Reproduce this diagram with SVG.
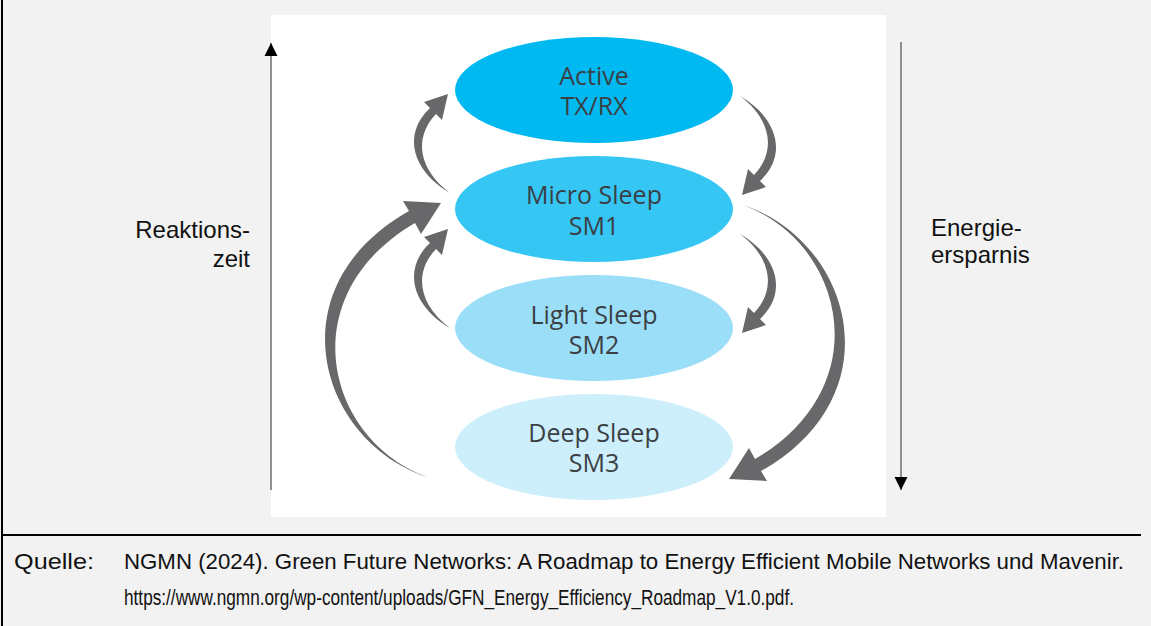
<svg xmlns="http://www.w3.org/2000/svg" width="1151" height="626" viewBox="0 0 1151 626">
  <style>
    .lbl { font-family: "Liberation Sans", Arial, sans-serif; font-size: 24px; fill: #111; }
    .src { font-family: "Liberation Sans", Arial, sans-serif; font-size: 22px; fill: #111; }
    .nt { font-family: "Open Sans", "DejaVu Sans", sans-serif; font-size: 25px; fill: #3b3f44; text-anchor: middle; }
    .axis { stroke: #6e6e6e; stroke-width: 1.5; fill: none; }
    .arr { fill: #68686b; }
  </style>
  <defs>
    <marker id="ah" markerUnits="userSpaceOnUse" markerWidth="14" markerHeight="14" viewBox="0 0 14 14" refX="13" refY="7" orient="auto">
      <path d="M0,0.5 L13,7 L0,13.5 Z" fill="#000"/>
    </marker>
    <path id="smallArrow" d="M 450 193 C 412 171 402 134 430 108 L 424 102 L 448 94 L 442 120 L 436 114 C 413 138 419 170 450 193 Z"/>
    <path id="bigArrow" d="M 427 477 C 318 441 274 287 409 211 L 403 201 L 441 203 L 421 234 L 415 223 C 290 296 326 440 427 477 Z"/>
  </defs>

  <g id="background">
    <rect x="0" y="0" width="1151" height="626" fill="#f2f2f2"/>
    <line x1="2" y1="0" x2="2" y2="626" stroke="#000" stroke-width="2"/>
    <line x1="2" y1="535" x2="1141" y2="535" stroke="#000" stroke-width="2"/>
    <rect x="271" y="15" width="615" height="502" fill="#ffffff"/>
  </g>

  <g id="node-active">
    <ellipse cx="594" cy="90" rx="139" ry="53" fill="#00b9f1"/>
    <text class="nt" x="594" y="85">Active</text>
    <text class="nt" x="594" y="115">TX/RX</text>
  </g>
  <g id="node-sm1">
    <ellipse cx="594" cy="209" rx="139" ry="53" fill="#35c6f4"/>
    <text class="nt" x="594" y="204">Micro Sleep</text>
    <text class="nt" x="594" y="235">SM1</text>
  </g>
  <g id="node-sm2">
    <ellipse cx="594" cy="328" rx="139" ry="53" fill="#9bdef8"/>
    <text class="nt" x="594" y="324">Light Sleep</text>
    <text class="nt" x="594" y="354">SM2</text>
  </g>
  <g id="node-sm3">
    <ellipse cx="594" cy="447" rx="139" ry="53" fill="#cdeffb"/>
    <text class="nt" x="594" y="442">Deep Sleep</text>
    <text class="nt" x="594" y="472">SM3</text>
  </g>

  <g id="connectors">
    <use href="#smallArrow" class="arr"/>
    <use href="#smallArrow" class="arr" transform="rotate(180 595 144.5)"/>
    <use href="#smallArrow" class="arr" transform="translate(0 135)"/>
    <use href="#smallArrow" class="arr" transform="translate(0 138) rotate(180 595 144.5)"/>
    <use href="#bigArrow" class="arr"/>
    <use href="#bigArrow" class="arr" transform="rotate(180 585 341)"/>
  </g>

  <g id="axis-left">
    <line class="axis" x1="271" y1="490" x2="271" y2="43" marker-end="url(#ah)"/>
    <text class="lbl" x="250" y="238" text-anchor="end">Reaktions-</text>
    <text class="lbl" x="250" y="267" text-anchor="end">zeit</text>
  </g>
  <g id="axis-right">
    <line class="axis" x1="901" y1="42" x2="901" y2="490" marker-end="url(#ah)"/>
    <text class="lbl" x="931" y="236">Energie-</text>
    <text class="lbl" x="931" y="263">ersparnis</text>
  </g>

  <g id="source">
    <text class="src" x="14" y="569" textLength="80" lengthAdjust="spacingAndGlyphs">Quelle:</text>
    <text class="src" x="124" y="569" textLength="1000" lengthAdjust="spacingAndGlyphs">NGMN (2024). Green Future Networks: A Roadmap to Energy Efficient Mobile Networks und Mavenir.</text>
    <text class="src" x="124" y="605" textLength="670" lengthAdjust="spacingAndGlyphs">https://www.ngmn.org/wp-content/uploads/GFN_Energy_Efficiency_Roadmap_V1.0.pdf.</text>
  </g>
</svg>
